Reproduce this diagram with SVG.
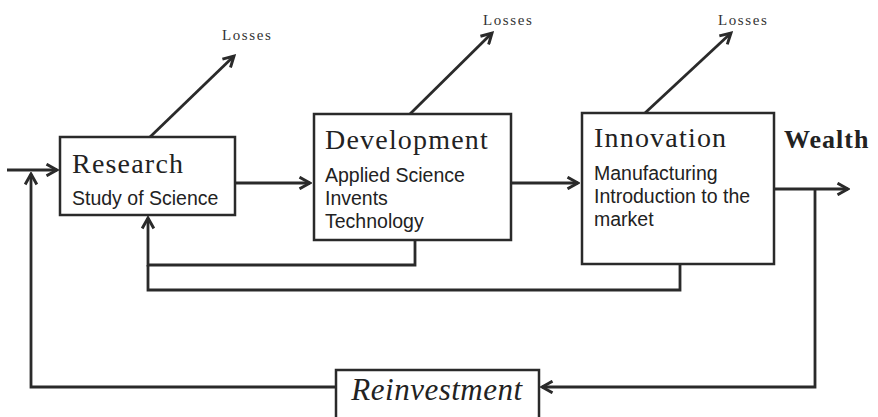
<svg xmlns="http://www.w3.org/2000/svg" width="878" height="417" viewBox="0 0 878 417">
<style>
.box{fill:#fff;stroke:#2a2a2a;stroke-width:2.5}
.ln{fill:none;stroke:#2a2a2a;stroke-width:2.8}
.title{font-family:"Liberation Serif",serif;fill:#222;font-size:28px;letter-spacing:1.2px}
.sub{font-family:"Liberation Sans",sans-serif;fill:#222;font-size:19.5px}
.loss{font-family:"Liberation Serif",serif;fill:#333;font-size:15px;letter-spacing:1.6px}
</style>
<defs>
<marker id="ah" viewBox="0 0 12 12" refX="10" refY="6" markerWidth="5" markerHeight="5" orient="auto" markerUnits="strokeWidth">
<path d="M1,1 L10,6 L1,11" fill="none" stroke="#2a2a2a" stroke-width="2.5" stroke-linejoin="miter"/>
</marker>
</defs>
<rect width="878" height="417" fill="#fff"/>
<g id="connectors">
<line class="ln" x1="7" y1="170" x2="57" y2="170" marker-end="url(#ah)"/>
<polyline class="ln" points="336,387 31,387 31,174" marker-end="url(#ah)"/>
<line class="ln" x1="236" y1="183" x2="310" y2="183" marker-end="url(#ah)"/>
<line class="ln" x1="512" y1="183" x2="578" y2="183" marker-end="url(#ah)"/>
<line class="ln" x1="774" y1="189" x2="848" y2="189" marker-end="url(#ah)"/>
<polyline class="ln" points="815,189 815,387 542,387" marker-end="url(#ah)"/>
<polyline class="ln" points="415,240 415,265 148,265 148,218" marker-end="url(#ah)"/>
<polyline class="ln" points="680,264 680,290 148,290 148,265"/>
<line class="ln" x1="150" y1="137" x2="234" y2="56" marker-end="url(#ah)"/>
<line class="ln" x1="410" y1="114" x2="492" y2="33" marker-end="url(#ah)"/>
<line class="ln" x1="645" y1="113" x2="731" y2="33" marker-end="url(#ah)"/>
</g>
<g id="research">
<rect class="box" x="60" y="137" width="175" height="78"/>
<text class="title" x="72" y="173">Research</text>
<text class="sub" x="72" y="205">Study of Science</text>
</g>
<g id="development">
<rect class="box" x="314" y="114" width="197" height="126"/>
<text class="title" x="325" y="149" font-size="30" letter-spacing="1.8">Development</text>
<text class="sub" x="325" y="182">Applied Science</text>
<text class="sub" x="325" y="205">Invents</text>
<text class="sub" x="325" y="228">Technology</text>
</g>
<g id="innovation">
<rect class="box" x="582" y="113" width="192" height="151"/>
<text class="title" x="594" y="147">Innovation</text>
<text class="sub" x="594" y="180">Manufacturing</text>
<text class="sub" x="594" y="203">Introduction to the</text>
<text class="sub" x="594" y="226">market</text>
</g>
<g id="wealth">
<text x="784" y="148" font-family="Liberation Serif,serif" font-weight="bold" font-size="26" letter-spacing="1" fill="#222">Wealth</text>
</g>
<g id="reinvestment">
<rect class="box" x="336" y="370" width="203" height="50"/>
<text x="437" y="400" text-anchor="middle" font-family="Liberation Serif,serif" font-style="italic" font-size="31" letter-spacing="0.5" fill="#222">Reinvestment</text>
</g>
<g id="losses">
<text class="loss" x="222" y="40">Losses</text>
<text class="loss" x="483" y="25">Losses</text>
<text class="loss" x="718" y="25">Losses</text>
</g>
</svg>
